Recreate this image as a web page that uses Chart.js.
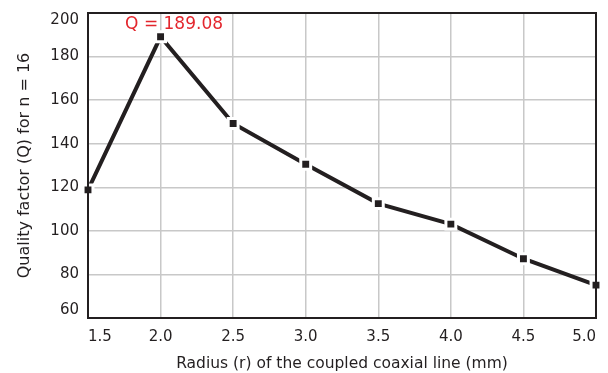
<!DOCTYPE html>
<html>
<head>
<meta charset="utf-8">
<script src="https://cdn.jsdelivr.net/npm/chart.js@4"></script>
<style>
  html, body { margin: 0; padding: 0; background: #fff; }
  #wrap { width: 608px; height: 373px; }
</style>
</head>
<body>
<div id="wrap"><canvas id="qChart"></canvas></div>
<script>
// radius of the coupled coaxial line (mm) and Q for n = 16
const radii = [1.5, 2.0, 2.5, 3.0, 3.5, 4.0, 4.5, 5.0];
const qualityFactors = [118.8, 189.08, 149.3, 130.6, 112.5, 103.1, 87.2, 75.1];
const peakIndex = 1; // the point that gets the red Q label

const ink = '#231f20';

// frame around the plot + the red "Q = ..." label over the peak
const framePlugin = {
  id: 'frameAndPeak',
  beforeDraw(chart) {
    // pull the end labels of the y axis inside the plot height
    const items = chart.scales.y.getLabelItems();
    if (items.length) {
      items[0].options.textBaseline = 'bottom';
      items[items.length - 1].options.textBaseline = 'top';
    }
  },
  afterDatasetsDraw(chart) {
    const ctx = chart.ctx;
    const a = chart.chartArea;
    ctx.save();
    ctx.strokeStyle = ink;
    ctx.lineWidth = 2;
    ctx.strokeRect(a.left, a.top, a.right - a.left, a.bottom - a.top);

    const pt = chart.getDatasetMeta(0).data[peakIndex];
    ctx.fillStyle = '#e3262d';
    ctx.font = '17px "DejaVu Sans"';
    ctx.textAlign = 'center';
    ctx.textBaseline = 'middle';
    ctx.fillText('Q = ' + qualityFactors[peakIndex].toFixed(2), pt.x + 13.5, pt.y - 12);
    ctx.restore();
  }
};

// keep the tick labels from pushing the plot area around
function noOverflow(s) {
  s.paddingTop = 0;
  s.paddingBottom = 0;
  s.paddingLeft = 0;
  s.paddingRight = 0;
}

let ctx = document.getElementById('qChart').getContext('2d');

let qChart = new Chart(ctx, {
  type: 'line',
  data: {
    datasets: [{
      data: radii.map((r, i) => ({ x: r, y: qualityFactors[i] })),
      borderColor: ink,
      borderWidth: 4,
      tension: 0,
      pointStyle: 'rect',
      pointRadius: 7,
      pointBackgroundColor: ink,
      pointBorderColor: '#ffffff',
      pointBorderWidth: 3,
      clip: false
    }]
  },
  options: {
    responsive: true,
    maintainAspectRatio: false,
    animation: false,
    layout: { padding: { top: 13, right: 12, left: 0, bottom: 0 } },
    plugins: {
      legend: { display: false },
      tooltip: { enabled: false }
    },
    scales: {
      x: {
        type: 'linear',
        min: 1.5,
        max: 5.0,
        afterFit: s => { s.height = 55; noOverflow(s); },
        ticks: {
          stepSize: 0.5,
          align: 'inner',
          padding: 10,
          color: ink,
          font: { family: 'DejaVu Sans', size: 15 },
          callback: v => v.toFixed(1)
        },
        grid: { color: '#c8c8c8', lineWidth: 1.5, drawTicks: false },
        border: { color: ink, width: 2 },
        title: {
          display: true,
          text: 'Radius (r) of the coupled coaxial line (mm)',
          color: ink,
          font: { family: 'DejaVu Sans', size: 15.5 },
          padding: { top: 0, bottom: 0 }
        }
      },
      y: {
        min: 60,
        max: 200,
        afterFit: s => { s.width = 88; noOverflow(s); },
        ticks: {
          stepSize: 20,
          padding: 9,
          color: ink,
          font: { family: 'DejaVu Sans', size: 15 }
        },
        grid: { color: '#c8c8c8', lineWidth: 1.5, drawTicks: false },
        border: { color: ink, width: 2 },
        title: {
          display: true,
          text: 'Quality factor (Q) for n = 16',
          color: ink,
          font: { family: 'DejaVu Sans', size: 16 },
          padding: { top: 15, bottom: 0 }
        }
      }
    }
  },
  plugins: [framePlugin]
});
</script>
</body>
</html>
